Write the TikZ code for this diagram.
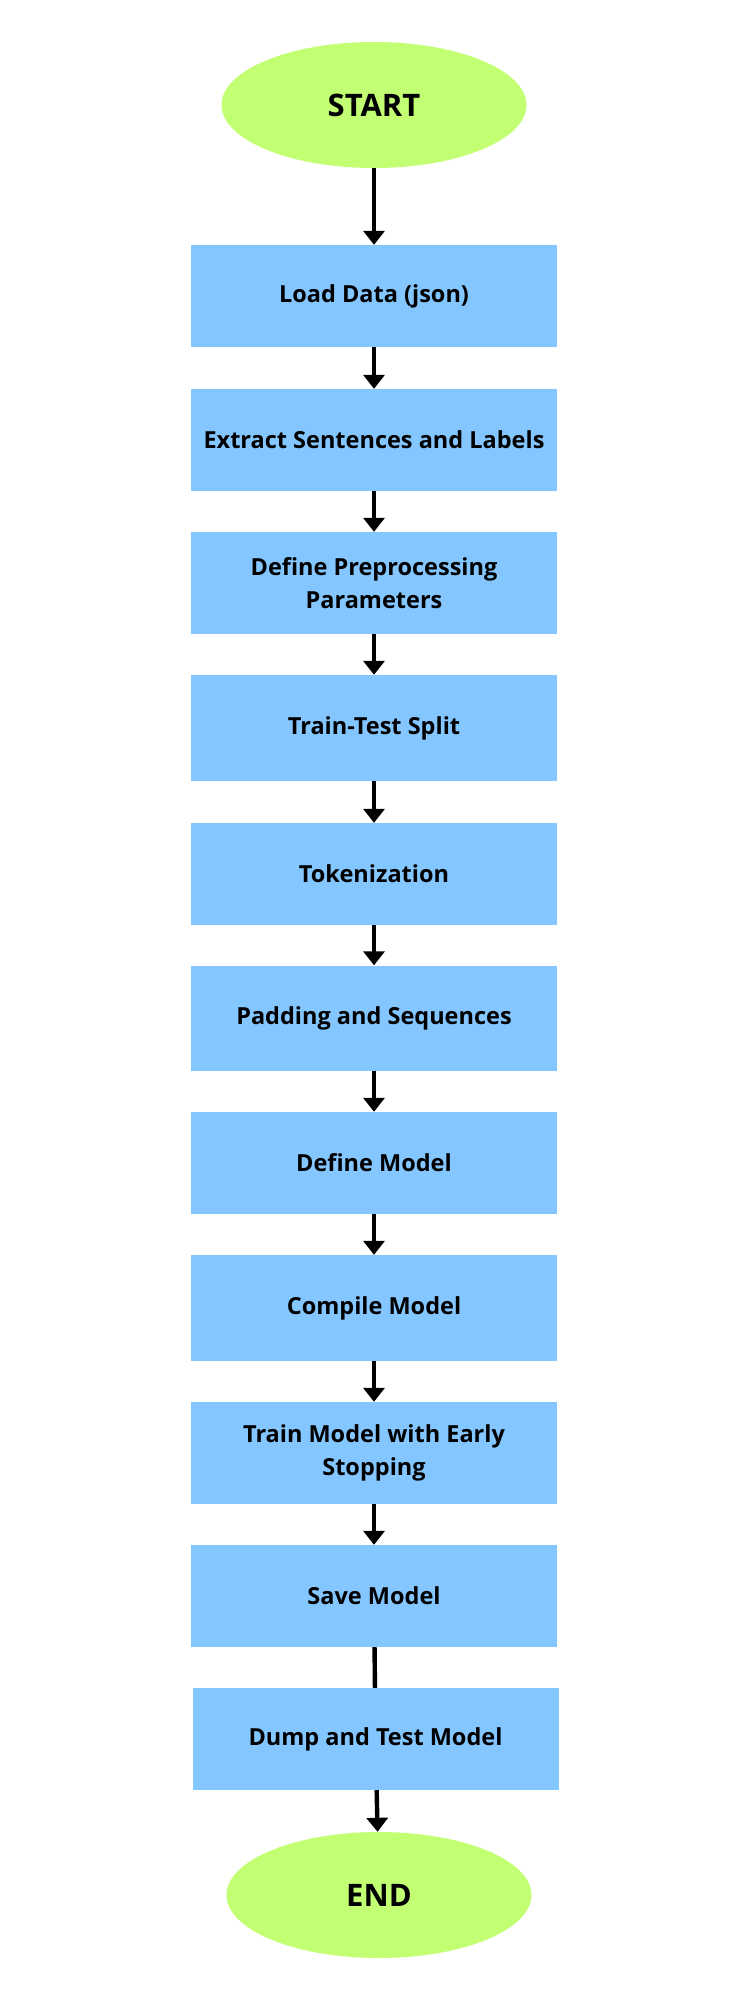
\documentclass[tikz,border=0pt]{standalone}
\usepackage{fontspec}
\setmainfont{Open Sans}[Ligatures=NoCommon]
\usepackage{tikz}
\usetikzlibrary{shapes,decorations}
\usetikzlibrary{arrows.meta, positioning}
\definecolor{termgreen}{RGB}{194,255,114}
\definecolor{boxblue}{RGB}{132,198,255}

\begin{document}
\begin{tikzpicture}[x=1pt,y=-1pt,
  startend/.style={ellipse, fill=termgreen, minimum width=305pt, minimum height=126pt,
    font=\fontsize{31}{36}\selectfont\bfseries},
  stepbox/.style={rectangle, fill=boxblue, minimum width=366pt, minimum height=102pt,
    align=center, font=\fontsize{23.5}{33}\selectfont\bfseries},
  link/.style={line width=4.4pt},
  flow/.style={link, -{Triangle[width=21pt,length=14pt]}}]
  \useasboundingbox (0,0) rectangle (750,2000);
  \fill[white] (0,0) rectangle (750,2000);

  \node[startend] (start) at (374,105) {START};
  \node[stepbox] (load) at (374,296) {Load Data (json)};
  \node[stepbox] (extract) at (374,440) {Extract Sentences and Labels};
  \node[stepbox] (params) at (374,583) {Define Preprocessing\\Parameters};
  \node[stepbox, minimum height=106pt] (split) at (374,728) {Train-Test Split};
  \node[stepbox] (token) at (374,874) {Tokenization};
  \node[stepbox, minimum height=105pt] (pad) at (374,1018) {Padding and Sequences};
  \node[stepbox] (define) at (374,1163) {Define Model};
  \node[stepbox, minimum height=106pt] (compile) at (374,1308) {Compile Model};
  \node[stepbox] (train) at (374,1453) {Train Model with Early\\Stopping};
  \node[stepbox] (save) at (374,1596) {Save Model};
  \node[stepbox] (dump) at (375.5,1739) {Dump and Test Model};
  \node[startend] (end) at (379,1895) {END};

  \draw[flow] (start) -- (load);
  \draw[flow] (load) -- (extract);
  \draw[flow] (extract) -- (params);
  \draw[flow] (params) -- (split);
  \draw[flow] (split) -- (token);
  \draw[flow] (token) -- (pad);
  \draw[flow] (pad) -- (define);
  \draw[flow] (define) -- (compile);
  \draw[flow] (compile) -- (train);
  \draw[flow] (train) -- (save);
  \draw[link] (save) -- (dump);
  \draw[flow] (dump) -- (end);

\end{tikzpicture}
\end{document}
